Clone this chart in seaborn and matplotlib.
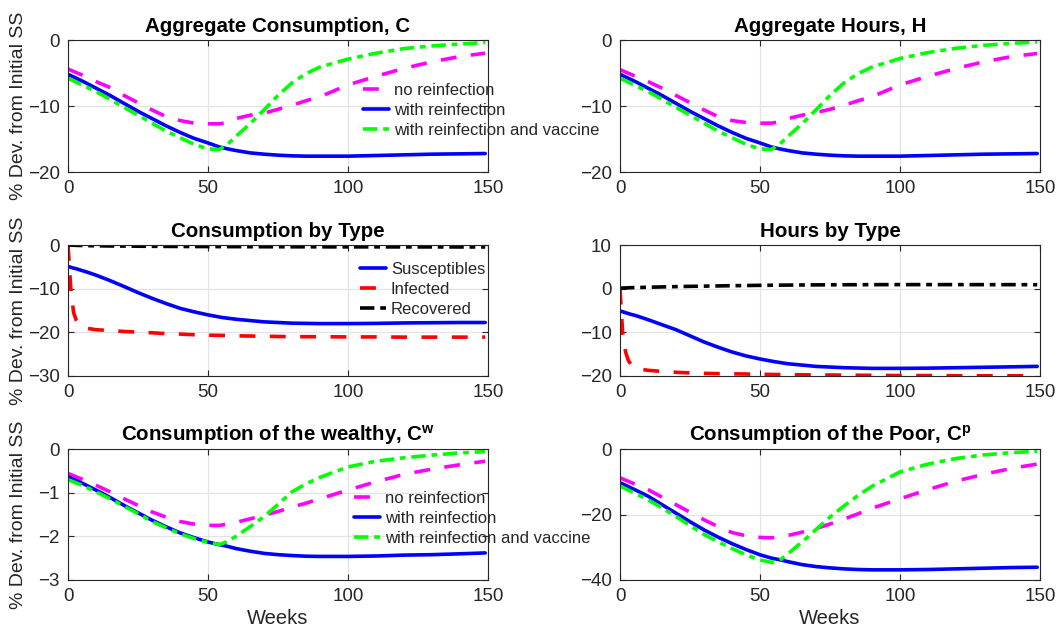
import matplotlib
matplotlib.use("Agg")
import matplotlib.pyplot as plt
import seaborn as sns
import numpy as np

# ---------------- data ----------------
weeks = [0, 5, 10, 15, 20, 25, 30, 35, 40, 45, 50, 54, 57, 60, 65, 70, 75, 80, 85, 90,
         100, 110, 120, 130, 140, 149]
weeks_type = [0, 0.5, 1, 2, 3, 4, 5, 7, 10, 15, 20, 25, 30, 35, 40, 45, 50, 55, 60, 70,
              80, 90, 100, 110, 120, 130, 140, 149]

scenario_labels = ["no reinfection", "with reinfection", "with reinfection and vaccine"]
type_labels = ["Susceptibles", "Infected", "Recovered"]

# Aggregate consumption C
C_noreinf = [-4.4, -5.3, -6.3, -7.2, -8.4, -9.5, -10.6, -11.6, -12.2, -12.6, -12.7, -12.7, -12.5,
             -11.9, -11.4, -11.1, -10.5, -9.9, -9.2, -8.6, -6.8, -5.5, -4.3, -3.3, -2.5, -2.0]
C_reinf = [-5.2, -6.2, -7.3, -8.4, -9.6, -10.8, -11.9, -13.0, -14.0, -14.9, -15.6, -16.2, -16.5,
           -16.75, -17.1, -17.3, -17.45, -17.55, -17.6, -17.6, -17.6, -17.5, -17.4, -17.3, -17.25, -17.2]
C_vacc = [-5.8, -6.8, -7.8, -9.0, -10.2, -11.4, -12.6, -13.8, -14.8, -15.8, -16.5, -16.6, -15.8,
          -14.6, -12.7, -10.6, -8.4, -6.5, -5.1, -4.1, -2.9, -2.0, -1.3, -0.9, -0.6, -0.4]

# Aggregate hours H
H_noreinf = [-4.5, -5.4, -6.3, -7.3, -8.4, -9.5, -10.6, -11.6, -12.2, -12.5, -12.6, -12.6, -12.4,
             -11.9, -11.4, -11.0, -10.5, -9.9, -9.2, -8.6, -6.8, -5.5, -4.3, -3.3, -2.5, -2.05]
H_reinf = [-5.2, -6.2, -7.3, -8.4, -9.6, -10.8, -11.9, -13.0, -14.0, -14.9, -15.6, -16.2, -16.5,
           -16.75, -17.1, -17.3, -17.45, -17.55, -17.6, -17.6, -17.6, -17.5, -17.4, -17.3, -17.25, -17.2]
H_vacc = [-5.8, -6.8, -7.8, -9.0, -10.2, -11.4, -12.6, -13.8, -14.8, -15.8, -16.5, -16.6, -15.8,
          -14.6, -12.7, -10.6, -8.4, -6.5, -5.1, -4.1, -2.8, -1.9, -1.25, -0.8, -0.5, -0.3]

# Consumption by type
CS = [-4.9, -5.0, -5.1, -5.3, -5.45, -5.65, -5.85, -6.25, -6.9, -8.15, -9.5, -10.9, -12.2, -13.4,
      -14.5, -15.3, -16.0, -16.6, -17.0, -17.6, -17.9, -18.0, -18.0, -17.95, -17.85, -17.8,
      -17.75, -17.75]
CI = [0.0, -5.0, -10.0, -15.5, -17.3, -18.2, -18.7, -19.1, -19.4, -19.6, -19.8, -19.95, -20.1,
      -20.3, -20.4, -20.55, -20.65, -20.7, -20.8, -20.9, -21.0, -21.0, -21.05, -21.05, -21.1,
      -21.1, -21.1, -21.1]
CR = [0.0, -0.02, -0.04, -0.06, -0.08, -0.1, -0.12, -0.15, -0.18, -0.22, -0.25, -0.28, -0.3,
      -0.32, -0.34, -0.35, -0.36, -0.37, -0.38, -0.4, -0.41, -0.42, -0.43, -0.43, -0.44, -0.44,
      -0.45, -0.45]

# Hours by type
HS = [-5.1, -5.2, -5.3, -5.5, -5.7, -5.9, -6.05, -6.45, -7.1, -8.25, -9.4, -10.8, -12.2, -13.4,
      -14.5, -15.4, -16.1, -16.7, -17.2, -17.8, -18.1, -18.25, -18.25, -18.2, -18.1, -18.0,
      -17.9, -17.8]
HI = [0.0, -5.5, -10.5, -14.5, -16.5, -17.4, -17.9, -18.4, -18.7, -18.95, -19.15, -19.3, -19.4,
      -19.45, -19.5, -19.55, -19.6, -19.65, -19.7, -19.75, -19.8, -19.85, -19.9, -19.9, -19.95,
      -19.95, -19.95, -19.95]
HR = [0.1, 0.12, 0.14, 0.17, 0.2, 0.22, 0.25, 0.28, 0.32, 0.4, 0.47, 0.53, 0.58, 0.63, 0.68,
      0.72, 0.76, 0.79, 0.82, 0.87, 0.9, 0.92, 0.93, 0.93, 0.93, 0.92, 0.92, 0.91]

# Consumption of the wealthy
Cw_noreinf = [-0.56, -0.69, -0.83, -0.98, -1.14, -1.29, -1.44, -1.56, -1.66, -1.72, -1.75, -1.75,
              -1.72, -1.68, -1.60, -1.52, -1.43, -1.33, -1.24, -1.14, -0.94, -0.75, -0.58, -0.46,
              -0.36, -0.28]
Cw_reinf = [-0.64, -0.78, -0.94, -1.11, -1.29, -1.46, -1.63, -1.78, -1.92, -2.03, -2.13, -2.19,
            -2.23, -2.28, -2.34, -2.39, -2.42, -2.44, -2.455, -2.46, -2.46, -2.45, -2.43, -2.42,
            -2.40, -2.38]
Cw_vacc = [-0.70, -0.83, -0.98, -1.14, -1.31, -1.48, -1.66, -1.80, -1.94, -2.05, -2.14, -2.19,
           -2.12, -2.0, -1.78, -1.55, -1.27, -0.98, -0.80, -0.65, -0.41, -0.28, -0.20, -0.14,
           -0.09, -0.06]

# Consumption of the poor
Cp_noreinf = [-8.8, -10.6, -12.4, -14.7, -17.0, -19.3, -21.6, -23.7, -25.5, -26.5, -27.0, -27.1,
              -26.9, -26.4, -25.4, -24.3, -22.9, -21.4, -19.8, -18.1, -15.2, -12.4, -9.8, -7.7,
              -5.9, -4.6]
Cp_reinf = [-10.3, -12.3, -14.4, -17.0, -19.6, -22.2, -24.7, -26.9, -28.9, -30.7, -32.3, -33.3,
            -33.8, -34.4, -35.3, -35.9, -36.3, -36.6, -36.8, -36.9, -36.9, -36.8, -36.6, -36.4,
            -36.2, -36.1]
Cp_vacc = [-11.3, -13.4, -15.5, -18.0, -20.6, -23.4, -26.1, -28.3, -30.4, -32.3, -33.9, -34.6,
           -34.0, -32.0, -28.4, -24.6, -20.8, -17.4, -14.2, -11.4, -7.0, -4.6, -2.9, -1.8, -1.1,
           -0.7]

# ---------------- style ----------------
sns.set_theme(style="ticks")
FONT = ["Liberation Sans", "DejaVu Sans"]
plt.rcParams["font.family"] = FONT
plt.rcParams["mathtext.fontset"] = "custom"
plt.rcParams["mathtext.rm"] = "Liberation Sans"
plt.rcParams["mathtext.bf"] = "Liberation Sans:bold"
plt.rcParams["mathtext.it"] = "Liberation Sans:italic"

W, H = 1057, 633
fig = plt.figure(figsize=(W / 100, H / 100), dpi=100)

TXT = "#262626"
LW = 2.6

def ax_at(x0, y0, x1, y1):
    return fig.add_axes([x0 / W, 1 - y1 / H, (x1 - x0) / W, (y1 - y0) / H])

cols = [(68, 488), (620, 1040)]
rows = [(40, 172), (245, 376), (449, 580)]

def style_ax(ax, title, ylim, yticks):
    ax.set_xlim(0, 150)
    ax.set_ylim(*ylim)
    ax.set_xticks([0, 50, 100, 150])
    ax.set_yticks(yticks)
    ax.grid(True, color="#e3e3e3", linewidth=0.9)
    ax.set_axisbelow(True)
    for s in ax.spines.values():
        s.set_visible(True)
        s.set_color(TXT)
        s.set_linewidth(0.8)
    ax.tick_params(direction="in", length=4, width=0.8, colors=TXT, labelsize=13.5,
                   top=True, right=True, pad=6)
    ax.set_title(title, fontsize=14.8, fontweight="bold", color="black", pad=6)

def line(ax, x, y, color, dashes=None, label=None):
    sns.lineplot(x=x, y=y, ax=ax, color=color, linewidth=LW, label=label, legend=False)
    ln = ax.lines[-1]
    if dashes is not None:
        ln.set_dashes(dashes)
    return ln

DASH = (4.4, 4.0)
DASHDOT = (4.0, 1.6, 1.6, 1.6)
MAG, BLUE, GREEN, RED = "#FF00FF", "#0000FF", "#00FF00", "#FF0000"

def add_legend(ax, handles, labels, pos):
    ax.legend(handles, labels, loc="upper left",
              bbox_to_anchor=(pos[0] / W, 1 - pos[1] / H),
              bbox_transform=fig.transFigure, frameon=False, borderpad=0,
              borderaxespad=0, handlelength=1.55, handletextpad=0.3,
              labelspacing=0.3, fontsize=12)

def scenario_panel(ax, y1, y2, y3, title, ylim, yticks, legend_pos=None):
    h1 = line(ax, weeks, y1, MAG, DASH)
    h2 = line(ax, weeks, y2, BLUE)
    h3 = line(ax, weeks, y3, GREEN, DASHDOT)
    style_ax(ax, title, ylim, yticks)
    if legend_pos is not None:
        add_legend(ax, [h1, h2, h3], scenario_labels, legend_pos)

def type_panel(ax, s, i, r, title, ylim, yticks, legend_pos=None):
    h1 = line(ax, weeks_type, s, BLUE)
    h2 = line(ax, weeks_type, i, RED, DASH)
    h3 = line(ax, weeks_type, r, "black", DASHDOT)
    style_ax(ax, title, ylim, yticks)
    if legend_pos is not None:
        add_legend(ax, [h1, h2, h3], type_labels, legend_pos)

ax1 = ax_at(cols[0][0], rows[0][0], cols[0][1], rows[0][1])
scenario_panel(ax1, C_noreinf, C_reinf, C_vacc, "Aggregate Consumption, C", (-20, 0),
               [-20, -10, 0], legend_pos=(363, 83))
ax2 = ax_at(cols[1][0], rows[0][0], cols[1][1], rows[0][1])
scenario_panel(ax2, H_noreinf, H_reinf, H_vacc, "Aggregate Hours, H", (-20, 0), [-20, -10, 0])
ax3 = ax_at(cols[0][0], rows[1][0], cols[0][1], rows[1][1])
type_panel(ax3, CS, CI, CR, "Consumption by Type", (-30, 0), [-30, -20, -10, 0],
           legend_pos=(360, 262))
ax4 = ax_at(cols[1][0], rows[1][0], cols[1][1], rows[1][1])
type_panel(ax4, HS, HI, HR, "Hours by Type", (-20, 10), [-20, -10, 0, 10])
ax5 = ax_at(cols[0][0], rows[2][0], cols[0][1], rows[2][1])
scenario_panel(ax5, Cw_noreinf, Cw_reinf, Cw_vacc, r"Consumption of the wealthy, C$^{\mathbf{w}}$",
               (-3, 0), [-3, -2, -1, 0], legend_pos=(354, 491))
ax6 = ax_at(cols[1][0], rows[2][0], cols[1][1], rows[2][1])
scenario_panel(ax6, Cp_noreinf, Cp_reinf, Cp_vacc, r"Consumption of the Poor, C$^{\mathbf{p}}$",
               (-40, 0), [-40, -20, 0])

for ax in (ax1, ax3, ax5):
    ax.set_ylabel("% Dev. from Initial SS", fontsize=14, color=TXT)
    ax.yaxis.set_label_coords(-0.098, 0.5)
for ax in (ax5, ax6):
    ax.set_xlabel("Weeks", fontsize=14.5, color=TXT, labelpad=3)

fig.savefig("out.png", dpi=100)
